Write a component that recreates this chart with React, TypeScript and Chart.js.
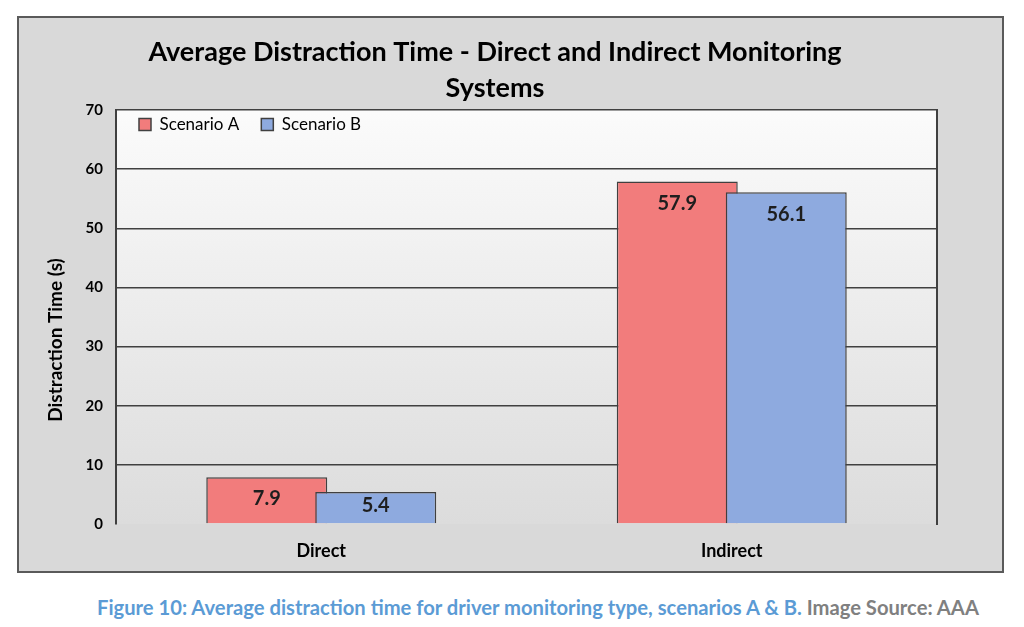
import React, { useEffect, useRef } from "react";
import { Chart, registerables } from "chart.js";

Chart.register(...registerables);

const categories = ["Direct", "Indirect"];
const seriesNames = ["Scenario A", "Scenario B"];
const scenarioA = [7.9, 57.9];
const scenarioB = [5.4, 56.1];
const yMin = 0;
const yMax = 70;
const yStep = 10;
const titleLines = ["Average Distraction Time - Direct and Indirect Monitoring", "Systems"];
const yTitle = "Distraction Time (s)";
const captionMain = "Figure 10: Average distraction time for driver monitoring type, scenarios A & B.";
const captionSource = " Image Source: AAA";

const FONT = "Lato, 'Open Sans', sans-serif";
const DARK = "#404040";
const RED = "#f27c7c";
const BLUE = "#8eaadf";

const plotBgPlugin = {
  id: "plotBg",
  beforeDraw(chart: any) {
    const { ctx, chartArea } = chart;
    if (!chartArea) return;
    const g = ctx.createLinearGradient(0, chartArea.top, 0, chartArea.bottom);
    g.addColorStop(0, "#fbfbfb");
    g.addColorStop(1, "#dcdcdc");
    ctx.save();
    ctx.fillStyle = g;
    ctx.fillRect(chartArea.left, chartArea.top, chartArea.right - chartArea.left, chartArea.bottom - chartArea.top);
    ctx.restore();
  },
};

const legendPosPlugin = {
  id: "legendPos",
  afterLayout(chart: any) {
    const lg = chart.legend;
    const ca = chart.chartArea;
    if (!lg || !ca) return;
    lg.left = ca.left + 1;
    lg.top = ca.top - 16;
    lg.height = 60;
    lg.bottom = lg.top + 60;
    lg.right = ca.right;
    lg.width = lg.right - lg.left;
  },
};

const yTitlePlugin = {
  id: "yTitleText",
  afterDraw(chart: any) {
    const { ctx, chartArea } = chart;
    ctx.save();
    ctx.font = `bold 19px ${FONT}`;
    ctx.fillStyle = "#000";
    ctx.textAlign = "center";
    ctx.textBaseline = "middle";
    ctx.translate(chartArea.left - 60, (chartArea.top + chartArea.bottom) / 2 + 23);
    ctx.rotate(-Math.PI / 2);
    ctx.fillText(yTitle, 0, 0);
    ctx.restore();
  },
};

const barsAndLabelsPlugin = {
  id: "barsAndLabels",
  beforeDatasetsDraw(chart: any) {
    const ctx = chart.ctx;
    chart.data.datasets.forEach((_ds: any, i: number) => {
      const meta = chart.getDatasetMeta(i);
      if (!meta.hidden) meta.controller.draw();
    });
    ctx.save();
    ctx.font = `bold 20px ${FONT}`;
    ctx.textAlign = "center";
    ctx.textBaseline = "middle";
    ctx.fillStyle = "#1e1e1e";
    chart.data.datasets.forEach((ds: any, i: number) => {
      const meta = chart.getDatasetMeta(i);
      meta.data.forEach((bar: any, j: number) => {
        const p = bar.getProps(["x", "y", "base"], true);
        const ly = Math.min(p.y + 22, (p.y + p.base) / 2 - 2);
        ctx.fillText(String(ds.data[j]), p.x, ly);
      });
    });
    ctx.restore();
    return false;
  },
};

export default function App() {
  const ref = useRef<HTMLCanvasElement | null>(null);

  useEffect(() => {
    if (!ref.current) return;
    Chart.defaults.font.family = FONT;
    const chart = new Chart(ref.current, {
      type: "bar",
      data: {
        labels: categories,
        datasets: [
          {
            label: seriesNames[0],
            data: scenarioA,
            backgroundColor: RED,
            borderColor: DARK,
            borderWidth: 1.5,
            categoryPercentage: 0.531,
            barPercentage: 1.11,
          },
          {
            label: seriesNames[1],
            data: scenarioB,
            backgroundColor: BLUE,
            borderColor: DARK,
            borderWidth: 1.5,
            categoryPercentage: 0.531,
            barPercentage: 1.11,
          },
        ],
      },
      options: {
        responsive: false,
        animation: false,
        events: [],
        layout: { padding: { left: 0, right: 31, top: 0, bottom: 0 } },
        plugins: {
          tooltip: { enabled: false },
          title: {
            display: true,
            text: titleLines,
            color: "#000",
            font: { family: FONT, size: 27, weight: "bold", lineHeight: 1.333 },
            padding: { top: 16, bottom: 4 },
          },
          legend: {
            display: true,
            position: "top",
            align: "start",
            maxHeight: 0.01,
            labels: {
              boxWidth: 12,
              boxHeight: 12,
              padding: 22,
              color: "#000",
              font: { family: FONT, size: 17 },
            },
          },
        },
        scales: {
          x: {
            grid: { display: false },
            border: { display: false },
            ticks: {
              color: "#000",
              padding: 8,
              font: { family: FONT, size: 18, weight: "bold" },
            },
            afterFit(s: any) {
              s.height = 47;
            },
          },
          y: {
            min: yMin,
            max: yMax,
            ticks: {
              stepSize: yStep,
              color: "#000",
              padding: 13,
              font: { family: FONT, size: 15, weight: "bold" },
            },
            grid: {
              drawTicks: false,
              lineWidth: 1.5,
              color: (c: any) => (c.tick && c.tick.value === 0 ? "rgba(0,0,0,0)" : DARK),
            },
            border: { display: true, color: DARK, width: 2 },
            afterFit(s: any) {
              s.width = 97;
            },
          },
          y2: {
            position: "right",
            display: true,
            min: yMin,
            max: yMax,
            grid: { display: false, drawTicks: false },
            ticks: { display: false },
            border: { display: true, color: DARK, width: 2 },
            afterFit(s: any) {
              s.width = 34;
            },
          },
        },
      } as any,
      plugins: [plotBgPlugin, legendPosPlugin, barsAndLabelsPlugin, yTitlePlugin],
    });
    return () => chart.destroy();
  }, []);

  return (
    <div style={{ position: "absolute", left: 0, top: 0, width: 1024, height: 627, background: "#fff", overflow: "hidden" }}>
      <div
        style={{
          position: "absolute",
          left: 17,
          top: 16,
          width: 987,
          height: 557,
          boxSizing: "border-box",
          border: "2px solid #5a5a5a",
          background: "#d9d9d9",
        }}
      >
        <canvas ref={ref} width={983} height={553} style={{ display: "block" }} />
      </div>
      <div
        style={{
          position: "absolute",
          left: 97,
          top: 595,
          whiteSpace: "nowrap",
          fontFamily: FONT,
          fontWeight: "bold",
          fontSize: 20.2,
          lineHeight: "24px",
          color: "#5b9bd5",
        }}
      >
        {captionMain}
        <span style={{ color: "#808080" }}>{captionSource}</span>
      </div>
    </div>
  );
}
